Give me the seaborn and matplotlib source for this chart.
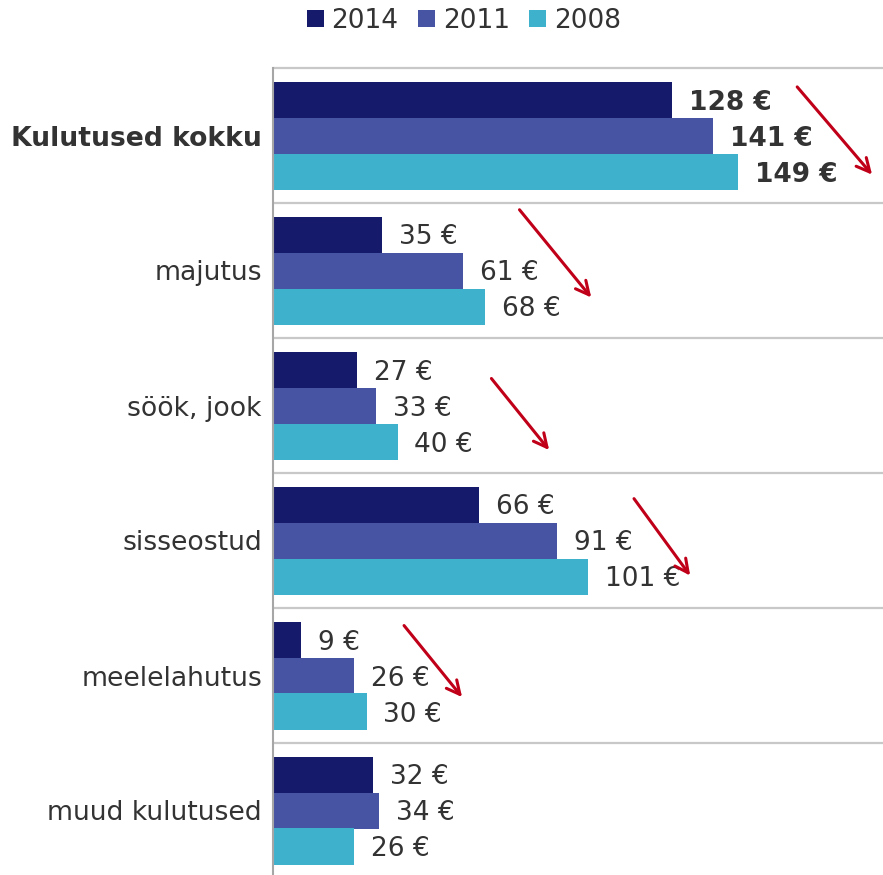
import matplotlib
matplotlib.use("Agg")
import matplotlib.pyplot as plt
import seaborn as sns
import pandas as pd
from matplotlib.patches import Patch

categories = ["Kulutused kokku", "majutus", "söök, jook", "sisseostud",
              "meelelahutus", "muud kulutused"]
years = ["2014", "2011", "2008"]
v2014 = [128, 35, 27, 66, 9, 32]
v2011 = [141, 61, 33, 91, 26, 34]
v2008 = [149, 68, 40, 101, 30, 26]

# trend arrows (start x, start y, end x, end y) in data units
arrows = [
    (168, -0.36, 192, 0.29),
    (79, 0.55, 102, 1.20),
    (70, 1.80, 88.5, 2.33),
    (115.7, 2.69, 133.7, 3.26),
    (42, 3.63, 60.6, 4.16),
]

colors = {"2014": "#161A6A", "2011": "#4753A3", "2008": "#3EB2CD"}
text_color = "#333333"

df = pd.DataFrame({
    "kategooria": categories * 3,
    "aasta": [y for y in years for _ in categories],
    "summa": v2014 + v2011 + v2008,
})

sns.set_theme(style="white")
plt.rcParams["font.family"] = ["DejaVu Sans"]

fig = plt.figure(figsize=(8.83, 8.75), dpi=100)
ax = fig.add_axes([273 / 883, -3 / 875, 1 - 273 / 883, 810 / 875])

sns.barplot(data=df, y="kategooria", x="summa", hue="aasta", hue_order=years,
            order=categories, orient="h", palette=colors, width=0.8,
            saturation=1, edgecolor="none", legend=False, ax=ax)

ax.set_xlim(0, 195.5)
ax.set_ylim(5.5, -0.5)
ax.set_xlabel("")
ax.set_ylabel("")
ax.xaxis.set_visible(False)

for sp in ["top", "right", "bottom"]:
    ax.spines[sp].set_visible(False)
ax.spines["left"].set_color("#A6A6A6")
ax.spines["left"].set_linewidth(1.5)

# separators between groups
for yv in [-0.5, 0.5, 1.5, 2.5, 3.5, 4.5]:
    ax.axhline(yv, color="#C8C8C8", lw=1.6, zorder=0, clip_on=False)

ax.tick_params(axis="y", length=0, pad=8, labelsize=19.2, labelcolor=text_color)
for lbl in ax.get_yticklabels():
    if lbl.get_text() == "Kulutused kokku":
        lbl.set_fontweight("bold")

for cont in ax.containers:
    texts = ax.bar_label(cont, fmt="{:.0f} €", padding=12, fontsize=19,
                         color=text_color)
    texts[0].set_fontweight("bold")
    for t in texts:
        t.set_va("center_baseline")

for x0, y0, x1, y1 in arrows:
    ax.annotate("", xy=(x1, y1), xytext=(x0, y0),
                arrowprops=dict(arrowstyle="->", color="#C00018", lw=2.2,
                                mutation_scale=24, shrinkA=0, shrinkB=0),
                annotation_clip=False)

handles = [Patch(facecolor=colors[y], edgecolor="none") for y in years]
fig.legend(handles, years, loc="center", bbox_to_anchor=(464 / 883, 1 - 21 / 875),
           ncol=3, frameon=False, fontsize=19, handlelength=0.62,
           handleheight=0.62, handletextpad=0.3, columnspacing=0.75,
           labelcolor=text_color)

fig.savefig("out.png", dpi=100)
